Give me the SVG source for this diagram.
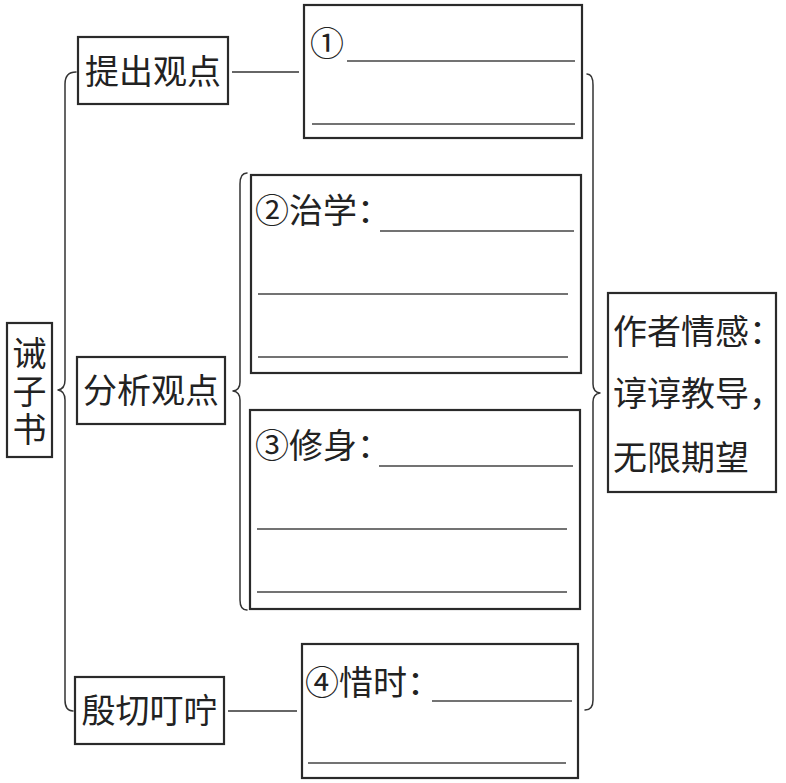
<svg xmlns="http://www.w3.org/2000/svg" width="786" height="783" viewBox="0 0 786 783">
<style>
  .box { fill: #ffffff; stroke: #2a2a2a; stroke-width: 2.2; }
  .blank { stroke: #444444; stroke-width: 1.3; fill: none; }
  .conn { stroke: #333333; stroke-width: 1.4; fill: none; }
  .brace { stroke: #333333; stroke-width: 1.5; fill: none; stroke-linejoin: round; stroke-linecap: round; }
  .t { font-family: "Noto Sans CJK SC", "Noto Sans", sans-serif; font-size: 34px; fill: #222222; }
  .mid { text-anchor: middle; }
  .vert { writing-mode: vertical-rl; letter-spacing: 4px; }
</style>
<rect x="0" y="0" width="786" height="783" fill="#ffffff"/>

<g id="connectors">
  <!-- big left brace -->
  <path class="brace" d="M76,72 Q65,72 65,84 L65,380 Q65,389 58,390 Q65,391 65,400 L65,700 Q65,711 73,711"/>
  <!-- inner brace for 分析观点 -->
  <path class="brace" d="M247,173 Q240,173 240,184 L240,382 Q240,390 233,391 Q240,392 240,400 L240,600 Q240,610 247,610"/>
  <!-- right brace -->
  <path class="brace" d="M587,74 Q593,74 593,85 L593,384 Q593,392 600,393 Q593,394 593,402 L593,700 Q593,710 585,710"/>
  <line class="conn" x1="232" y1="72" x2="299" y2="72"/>
  <line class="conn" x1="228" y1="711" x2="297" y2="711"/>
</g>

<g id="node-jiezishu">
  <rect class="box" x="7" y="323" width="45" height="134"/>
  <text class="t vert" x="29.5" y="336" font-size="33">诫子书</text>
</g>

<g id="node-tichu">
  <rect class="box" x="78" y="37" width="150" height="67"/>
  <text class="t mid" x="153" y="84">提出观点</text>
</g>

<g id="node-fenxi">
  <rect class="box" x="77" y="357" width="148" height="67"/>
  <text class="t mid" x="151" y="403">分析观点</text>
</g>

<g id="node-yinqie">
  <rect class="box" x="75" y="677" width="149" height="67"/>
  <text class="t mid" x="149.5" y="723">殷切叮咛</text>
</g>

<g id="node-1">
  <rect class="box" x="304" y="5" width="278" height="133"/>
  <text class="t" x="310" y="56">①</text>
  <line class="blank" x1="347" y1="61" x2="575" y2="61"/>
  <line class="blank" x1="312" y1="124" x2="575" y2="124"/>
</g>

<g id="node-2">
  <rect class="box" x="251" y="175" width="330" height="198"/>
  <text class="t" x="255" y="223">②治学：</text>
  <line class="blank" x1="380" y1="231" x2="574" y2="231"/>
  <line class="blank" x1="258" y1="294" x2="568" y2="294"/>
  <line class="blank" x1="258" y1="357" x2="568" y2="357"/>
</g>

<g id="node-3">
  <rect class="box" x="250" y="410" width="330" height="199"/>
  <text class="t" x="255" y="458">③修身：</text>
  <line class="blank" x1="379" y1="466" x2="573" y2="466"/>
  <line class="blank" x1="257" y1="529" x2="567" y2="529"/>
  <line class="blank" x1="257" y1="592" x2="567" y2="592"/>
</g>

<g id="node-4">
  <rect class="box" x="302" y="644" width="276" height="134"/>
  <text class="t" x="305" y="695">④惜时：</text>
  <line class="blank" x1="432" y1="701" x2="572" y2="701"/>
  <line class="blank" x1="308" y1="763" x2="566" y2="763"/>
</g>

<g id="node-emotion">
  <rect class="box" x="608" y="293" width="168" height="199"/>
  <text class="t" x="613" y="344" font-size="35">作者情感：</text>
  <text class="t" x="613" y="406" font-size="35">谆谆教导，</text>
  <text class="t" x="613" y="470" font-size="35">无限期望</text>
</g>
</svg>
